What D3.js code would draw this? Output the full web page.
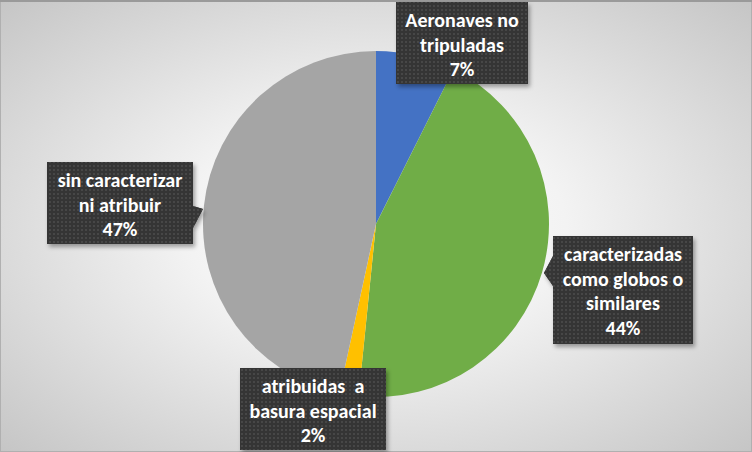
<!DOCTYPE html>
<html>
<head>
<meta charset="utf-8">
<script src="https://cdn.jsdelivr.net/npm/d3@7"></script>
<style>
  body { margin: 0; }
  svg { display: block; }
  .lbl { font-family: Carlito, "Liberation Sans Narrow", "DejaVu Sans Condensed", sans-serif; font-weight: bold; font-size: 20px; fill: #fff; white-space: pre; }
</style>
</head>
<body>
<svg id="chart" width="752" height="452"></svg>
<script>
// ---- Dados
const categories = ["Aeronaves no\ntripuladas", "caracterizadas\ncomo globos o\nsimilares", "atribuidas  a\nbasura espacial", "sin caracterizar\nni atribuir"];
const values = [7.4, 44.2, 1.8, 46.6];
const colors = ["#4472C4", "#70AD47", "#FFC000", "#A5A5A5"];

// label boxes (layout only)
const boxes = [
    { x: 396, y: 2, w: 132, h: 82, pointer: null },
    { x: 553, y: 236, w: 140, h: 108, pointer: [[553, 256], [544, 273], [553, 286]] },
    { x: 240, y: 368, w: 146, h: 82, pointer: null },
    { x: 47, y: 162, w: 146, h: 82, pointer: [[193, 206], [203, 209], [193, 228]] }
];

const width = 752, height = 452;
const cx = 376, cy = 224, radius = 173;
const svg = d3.select('#chart');

// ---- defs
const defs = svg.append('defs');
const bg = defs.append('radialGradient').attr('id', 'bg')
    .attr('cx', '50%').attr('cy', '50%').attr('r', '72%');
bg.append('stop').attr('offset', '0%').attr('stop-color', '#ffffff');
bg.append('stop').attr('offset', '35%').attr('stop-color', '#f3f3f3');
bg.append('stop').attr('offset', '100%').attr('stop-color', '#c4c4c4');

const pat = defs.append('pattern').attr('id', 'dots')
    .attr('width', 4).attr('height', 4).attr('patternUnits', 'userSpaceOnUse');
pat.append('rect').attr('width', 4).attr('height', 4).attr('fill', '#363636');
pat.append('rect').attr('x', 1).attr('y', 1).attr('width', 2).attr('height', 2).attr('fill', '#474747');

const sh = defs.append('filter').attr('id', 'shadow')
    .attr('x', '-10%').attr('y', '-10%').attr('width', '130%').attr('height', '130%');
sh.append('feDropShadow').attr('dx', 2).attr('dy', 3).attr('stdDeviation', 2)
    .attr('flood-color', '#000').attr('flood-opacity', 0.35);

// ---- fundo
svg.append('rect').attr('width', width).attr('height', height).attr('fill', 'url(#bg)');
svg.append('rect').attr('x', 0.5).attr('y', 0.5).attr('width', width - 1).attr('height', height - 1)
    .attr('fill', 'none').attr('stroke', '#b0b0b0');
svg.append('line').attr('x1', 0).attr('x2', width).attr('y1', 1).attr('y2', 1)
    .attr('stroke', '#9a9a9a').attr('stroke-width', 2);

// ---- Pizza
const pie = d3.pie().sort(null).value(d => d);
const arc = d3.arc().innerRadius(0).outerRadius(radius);

svg.append('g')
    .attr('transform', `translate(${cx}, ${cy})`)
    .selectAll('path')
    .data(pie(values))
    .enter()
    .append('path')
    .attr('d', arc)
    .attr('fill', (d, i) => colors[i]);

// ---- Rótulos
const fmt = d3.format('.0f');
const lg = svg.append('g');

boxes.forEach((b, i) => {
    const g = lg.append('g').attr('filter', 'url(#shadow)');
    if (b.pointer) {
        g.append('path')
            .attr('d', d3.line()(b.pointer) + 'Z')
            .attr('fill', 'url(#dots)');
    }
    g.append('rect')
        .attr('x', b.x).attr('y', b.y).attr('width', b.w).attr('height', b.h)
        .attr('fill', 'url(#dots)');
    if (b.pointer) {
        // cover the seam between wedge and box
        lg.append('path')
            .attr('d', d3.line()(b.pointer) + 'Z')
            .attr('fill', 'url(#dots)');
    }

    const lines = categories[i].split('\n').concat([fmt(values[i]) + '%']);
    const t = lg.append('text')
        .attr('class', 'lbl')
        .attr('text-anchor', 'middle');
    lines.forEach((ln, j) => {
        t.append('tspan')
            .attr('x', b.x + b.w / 2)
            .attr('y', b.y + 25 + j * 24.6)
            .text(ln);
    });
});
</script>
</body>
</html>
